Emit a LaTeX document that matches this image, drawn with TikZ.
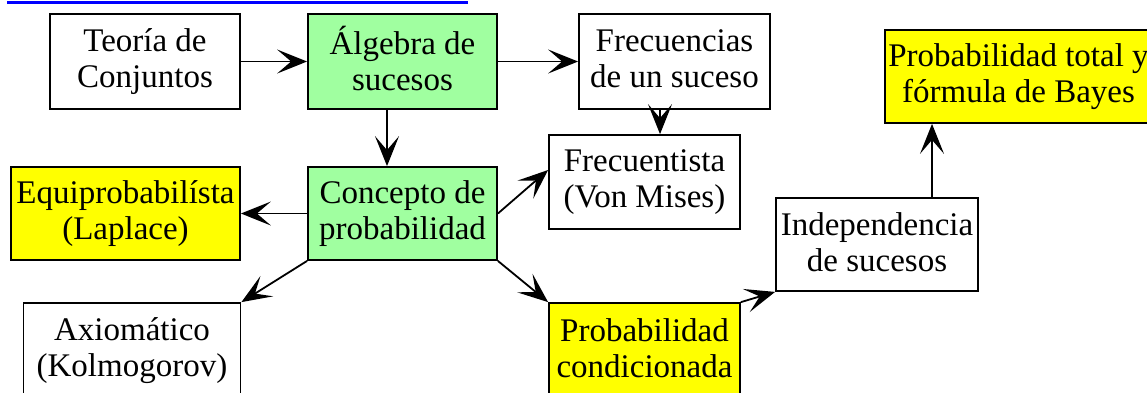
\documentclass[tikz,border=0pt]{standalone}
\usepackage{fontspec}
\setmainfont{Liberation Serif}
\usetikzlibrary{arrows.meta}
\definecolor{boxgreen}{RGB}{160,255,160}
\definecolor{boxyellow}{RGB}{255,255,0}
\newcommand\mystrut{\rule[-5.5pt]{0pt}{36pt}}
\tikzset{
  box/.style={draw=black, line width=1.8pt, align=center, inner sep=0pt,
    font=\fontsize{33}{36}\selectfont,
    execute at begin node=\mystrut, execute at end node=\mystrut},
  greenbox/.style={box, fill=boxgreen},
  yellowbox/.style={box, fill=boxyellow},
  whitebox/.style={box, fill=white},
  arr/.style={line width=1.8pt, -{Stealth[length=30pt,width=24pt,inset=14pt]}}
}
\begin{document}
\begin{tikzpicture}[x=1pt,y=-1pt]
\useasboundingbox (0,0) rectangle (1147,392);
\clip (0,0) rectangle (1147,392);
\fill[white] (0,0) rectangle (1147,392);
% top blue line
\draw[blue, line width=3pt] (7,2.5) -- (468,2.5);
% boxes
\node[whitebox, minimum width=190pt, minimum height=95pt] (teoria) at (145,61.5) {Teoría de\\Conjuntos};
\node[greenbox, minimum width=189pt, minimum height=95pt] (algebra) at (402.5,61.5) {Álgebra de\\sucesos};
\node[whitebox, minimum width=191pt, minimum height=95pt] (frec) at (674.5,61.5) {Frecuencias\\de un suceso};
\node[yellowbox, minimum width=267pt, minimum height=93pt] (bayes) at (1018.5,76.5) {Probabilidad total y\\fórmula de Bayes};
\node[whitebox, minimum width=191pt, minimum height=94pt] (frecuentista) at (644.5,182) {Frecuentista\\(Von Mises)};
\node[yellowbox, minimum width=229pt, minimum height=93pt] (equi) at (125.5,213.5) {Equiprobabilísta\\(Laplace)};
\node[greenbox, minimum width=189pt, minimum height=93pt] (concepto) at (402.5,213.5) {Concepto de\\probabilidad};
\node[whitebox, minimum width=202pt, minimum height=93pt] (indep) at (877,244.5) {Independencia\\de sucesos};
\node[whitebox, minimum width=217pt, minimum height=95pt] (axiom) at (132,350.5) {Axiomático\\(Kolmogorov)};
\node[yellowbox, minimum width=191pt, minimum height=95pt] (condic) at (644.5,350.5) {Probabilidad\\condicionada};
% connectors
\draw[arr] (teoria.east) -- (algebra.west);
\draw[arr] (algebra.east) -- (frec.west);
\draw[arr] ([xshift=-15.5pt]algebra.south) -- ([xshift=-15.5pt]concepto.north);
\draw[arr] ([xshift=-14.5pt]frec.south) -- ([xshift=-14.5pt]frec.south |- frecuentista.north);
\draw[arr] (concepto.west) -- (equi.east);
\draw[arr] (concepto.east) -- ([yshift=12pt]frecuentista.west);
\draw[arr] (concepto.south west) -- (axiom.north east);
\draw[arr] (concepto.south east) -- (condic.north west);
\draw[arr] (condic.north east) -- (indep.south west);
\draw[arr] ([xshift=55pt]indep.north) -- ([xshift=55pt]indep.north |- bayes.south);
\end{tikzpicture}
\end{document}
